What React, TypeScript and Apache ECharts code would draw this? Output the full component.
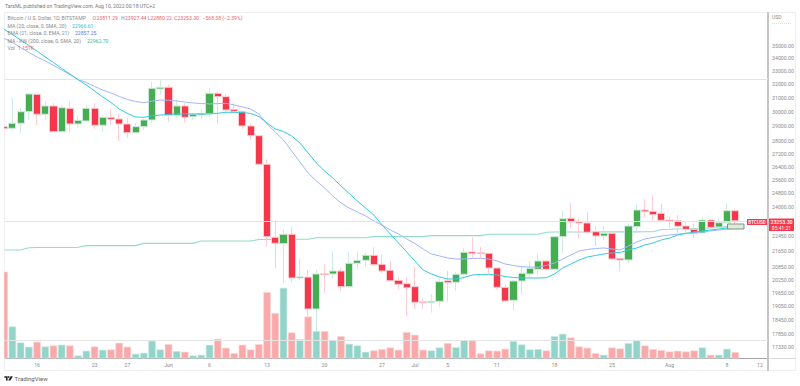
import React, { useEffect, useRef } from "react";
import * as echarts from "echarts";

const startDate = Date.UTC(2022, 4, 12);
const categoryCount = 94;
const dateLabels: Record<number, string> = {
  4: "16", 11: "23", 15: "27", 20: "Jun", 25: "6", 32: "13", 39: "20", 46: "27",
  50: "Jul", 54: "5", 60: "11", 67: "18", 74: "25", 81: "Aug", 88: "8", 92: "12",
};
const priceTicks = [35000, 34000, 33000, 32000, 31000, 30000, 29000, 28000, 27200, 26400, 25600, 24800, 24000, 22450, 21650, 20850, 20250, 19650, 19050, 18450, 17850, 17330];

const opens = [
  28982, 28873, 29213, 30016, 31264, 29835, 30420, 28644, 30256, 29166,
  29370, 30256, 29077, 29626, 29508, 29166, 28578, 28982, 29438, 31653,
  31780, 29766, 30420, 29668, 29786, 29877, 31337, 31089, 30185, 30044,
  29029, 28379, 26542, 22376, 22044, 22534, 20344, 20386, 18921, 20550,
  20535, 20679, 19934, 21056, 21203, 21454, 21007, 20713, 20234, 20075,
  19934, 19246, 19202, 19264, 20215, 20140, 20521, 21620, 21585, 21554,
  20825, 19904, 19308, 20201, 20535, 20761, 21169, 20761, 22408, 23392,
  23207, 23137, 22670, 22444, 22586, 21303, 21218, 22938, 23850, 23778,
  23668, 23298, 23260, 22975, 22798, 22602, 23298, 22921, 23153, 23811.29,
];
const closes = [
  28846, 29213, 30016, 31286, 29835, 30420, 28644, 30299, 29166, 29418,
  30256, 29077, 29626, 29487, 29166, 28578, 28982, 29438, 31705, 31780,
  29766, 30420, 29626, 29835, 29877, 31337, 31089, 30135, 30044, 29029,
  28379, 26542, 22408, 22064, 22534, 20344, 20404, 18921, 20535, 20501,
  20679, 19934, 21056, 21203, 21454, 20987, 20679, 20215, 20047, 19888,
  19219, 19202, 19264, 20168, 20122, 20521, 21605, 21534, 21534, 20825,
  19904, 19277, 20201, 20569, 20810, 21169, 20761, 22408, 23370, 23190,
  23137, 22639, 22444, 22586, 21268, 21218, 22975, 23850, 23756, 23590,
  23282, 23244, 22959, 22798, 22565, 23298, 22905, 23153, 23811, 23253.3,
];
const highs = [
  30135, 30994, 30278, 31359, 31286, 30727, 30634, 30491, 30727, 29717,
  30491, 30613, 29786, 30206, 29856, 29557, 29234, 29557, 32198, 32325,
  31951, 30848, 30634, 29947, 30185, 31705, 31454, 31286, 30655, 30086,
  29213, 28425, 26853, 23260, 22760, 22938, 21303, 20727, 20727, 21007,
  21670, 20810, 21635, 21635, 21585, 21859, 21504, 21169, 20407, 20344,
  20889, 19400, 19597, 20329, 20693, 20646, 21838, 22376, 21890, 21585,
  20860, 20014, 20248, 20889, 21169, 21554, 21218, 22444, 23811, 24262,
  23392, 23740, 22975, 22975, 22586, 21303, 23120, 24187, 24454, 24645,
  24187, 23480, 23574, 23207, 23120, 23447, 23337, 23392, 24228, 23927.44,
];
const lows = [
  25406, 28757, 28578, 29438, 29097, 29438, 28624, 28624, 28644, 28914,
  29322, 28825, 28644, 29097, 28028, 28246, 28558, 28757, 29254, 31213,
  29322, 29577, 29254, 29438, 29487, 29668, 29166, 29905, 30016, 28805,
  28093, 26499, 21890, 20810, 20094, 20168, 20248, 18526, 17970, 19629,
  20329, 19734, 19860, 20727, 20889, 20973, 20569, 20215, 19813, 18583,
  18921, 18921, 18758, 19023, 19246, 19734, 20406, 21303, 21303, 20569,
  19813, 19246, 18876, 19597, 20344, 20535, 20727, 20727, 21554, 22851,
  22323, 22586, 21925, 22234, 21218, 20693, 21056, 22586, 23447, 23260,
  23260, 22851, 22586, 22618, 22376, 22586, 22851, 22888, 23120, 22880.22,
];
const volumes = [
  15884, 5856, 2928, 2141, 3056, 2196, 2379, 2507, 2379, 549,
  1409, 2196, 1592, 1647, 2873, 2141, 860, 1043, 3239, 1647,
  2617, 1336, 1226, 549, 677, 2507, 3605, 1958, 970, 2507,
  1647, 2617, 12133, 8290, 12938, 4758, 3532, 7686, 4996, 4996,
  3422, 4081, 2690, 2379, 1226, 1464, 1702, 2013, 1592, 4813,
  4337, 1592, 1464, 2013, 2800, 2068, 3349, 3294, 915, 1464,
  1409, 1775, 3166, 2562, 1647, 1702, 1464, 4081, 4520, 3843,
  2196, 1958, 970, 677, 2013, 1830, 2800, 3294, 2379, 1702,
  1519, 1281, 1409, 1281, 1464, 2013, 677, 677, 1775, 1157,
];
const ma20 = [
  36390, 35954, 35494, 35041, 34593, 34113, 33677, 33207, 32784, 32348,
  31950, 31505, 31067, 30670, 30206, 29891, 29647, 29626, 29717, 29786,
  29821, 29856, 29856, 29856, 29856, 29856, 29905, 29975, 29968, 29954,
  29891, 29682, 29234, 28825, 28657, 28359, 27898, 27253, 26623, 26128,
  25705, 25229, 24790, 24358, 23963, 23574, 23029, 22550, 22080, 21620,
  21169, 20727, 20535, 20392, 20296, 20296, 20367, 20488, 20512, 20521,
  20488, 20415, 20367, 20344, 20344, 20344, 20358, 20535, 20825, 21021,
  21218, 21369, 21444, 21519, 21569, 21595, 21720, 21823, 21977, 22080,
  22234, 22339, 22497, 22576, 22655, 22707, 22760, 22814, 22868, 22966.61,
];
const ema21 = [
  35636, 35287, 34877, 34473, 34113, 33794, 33440, 33090, 32742, 32363,
  32138, 31839, 31578, 31359, 31104, 30884, 30741, 30655, 30777, 30848,
  30827, 30777, 30705, 30634, 30598, 30563, 30591, 30613, 30491, 30349,
  30206, 29856, 29166, 28624, 28093, 27379, 26685, 26008, 25525, 25110,
  24645, 24245, 23963, 23740, 23519, 23244, 23029, 22760, 22550, 22287,
  22053, 21771, 21519, 21419, 21318, 21268, 21268, 21293, 21303, 21268,
  21169, 21021, 20948, 20889, 20874, 20860, 20948, 21070, 21268, 21469,
  21670, 21745, 21797, 21823, 21771, 21720, 21925, 22130, 22287, 22365,
  22444, 22497, 22539, 22581, 22618, 22655, 22707, 22760, 22798, 22857.25,
];
const ma200 = [
  21720, 21720, 21720, 21838, 21849, 21849, 21849, 21849, 21849, 21860,
  21943, 21943, 21943, 21943, 21943, 21943, 21943, 22059, 22059, 22059,
  22059, 22059, 22059, 22059, 22182, 22182, 22182, 22182, 22182, 22182,
  22182, 22260, 22260, 22260, 22260, 22260, 22271, 22271, 22355, 22355,
  22355, 22355, 22355, 22355, 22355, 22408, 22408, 22408, 22408, 22408,
  22408, 22408, 22461, 22461, 22461, 22461, 22461, 22461, 22461, 22534,
  22534, 22534, 22534, 22534, 22534, 22534, 22639, 22650, 22650, 22650,
  22650, 22650, 22650, 22660, 22660, 22660, 22660, 22660, 22670, 22670,
  22787, 22798, 22814, 22825, 22841, 22852, 22868, 22895, 22938, 22962.7,
];
const currentPrice = 23253.3;
const upperLevel = 32380;
const volumeLevel = 3257;

const FONT = "Roboto, 'Liberation Sans', sans-serif";
const GREY = "#8a8a8a";
const RED_TXT = "#f0616c";

const gridLeft = 4.2;
const gridWidth = 763.9;

function label(x: number, y: number, text: string, fill = GREY, size = 5.1, align = "left", weight = 400) {
  return {
    type: "text", x, y, z: 120, silent: true,
    style: { text, fill, font: `${weight} ${size}px ${FONT}`, align, verticalAlign: "middle" },
  };
}
function hline(x1: number, x2: number, y: number, stroke: string, lineWidth = 1) {
  return { type: "line", z: 1, silent: true, shape: { x1, y1: y, x2, y2: y }, style: { stroke, lineWidth } };
}
function vline(x: number, y1: number, y2: number, stroke: string, lineWidth = 1, z = 1) {
  return { type: "line", z, silent: true, shape: { x1: x, y1, x2: x, y2 }, style: { stroke, lineWidth } };
}

export default function App() {
  const ref = useRef<HTMLDivElement>(null);
  useEffect(() => {
    const chart = echarts.init(ref.current!, undefined, { renderer: "svg" });
    const categories = Array.from({ length: categoryCount }, (_, i) =>
      new Date(startDate + i * 86400000).toISOString().slice(0, 10));
    chart.setOption({
      animation: false,
      backgroundColor: "#ffffff",
      grid: [
        { left: gridLeft, width: gridWidth, top: 12, height: 346.5 },
        { left: gridLeft, width: gridWidth, top: 258.5, height: 100 },
      ],
      xAxis: [
        { type: "category", gridIndex: 0, data: categories, boundaryGap: false, show: false },
        {
          type: "category", gridIndex: 1, data: categories, boundaryGap: false,
          axisLine: { lineStyle: { color: "#a3a3a3", width: 1 } },
          axisTick: { show: false },
          splitLine: { show: false },
          axisLabel: {
            show: true, color: GREY, fontSize: 5.2, fontFamily: FONT, margin: 4,
            interval: (i: number) => dateLabels[i] !== undefined,
            formatter: (_: string, i: number) => dateLabels[i] ?? "",
            hideOverlap: false, showMinLabel: true, showMaxLabel: true,
          },
        },
      ],
      yAxis: [
        {
          type: "log", gridIndex: 0, position: "right", min: 16852, max: 37897, logBase: 10,
          axisLine: { show: false }, axisTick: { show: false }, splitLine: { show: false },
          minorTick: { show: false }, minorSplitLine: { show: false },
          axisLabel: {
            color: GREY, fontSize: 5.2, fontFamily: FONT, margin: 4, align: "left",
            customValues: priceTicks,
            formatter: (v: number) => Number(v).toFixed(2),
          },
        },
        { type: "value", gridIndex: 1, min: 0, max: 18300, show: false },
      ],
      series: [
        {
          type: "bar", xAxisIndex: 1, yAxisIndex: 1, barWidth: 7.4, z: 1, clip: true,
          data: volumes.map((v, i) => ({
            value: v,
            itemStyle: closes[i] >= opens[i]
              ? { color: "#93d4ca", borderColor: "#c7e9e3", borderWidth: 0.6 }
              : { color: "#f9a9aa", borderColor: "#fdd3d4", borderWidth: 0.6 },
          })),
          markLine: {
            silent: true, symbol: "none", label: { show: false }, animation: false,
            lineStyle: { color: "#e4e4e4", type: "solid", width: 1 },
            data: [{ yAxis: volumeLevel }],
          },
        },
        {
          type: "line", data: ma200, symbol: "none", z: 2, silent: true,
          lineStyle: { color: "#93dccb", width: 1.1 },
        },
        {
          type: "candlestick", barWidth: 7.6, z: 3, clip: true,
          data: opens.map((o, i) => [o, closes[i], lows[i], highs[i]]),
          itemStyle: {
            color: "#46ad50", color0: "#f5374b",
            borderColor: "#cfeade", borderColor0: "#fdcdd2", borderWidth: 1,
          },
          markLine: {
            silent: true, symbol: "none", label: { show: false }, animation: false,
            data: [
              { yAxis: currentPrice, lineStyle: { color: "#fad9db", type: "solid", width: 1 } },
              { yAxis: upperLevel, lineStyle: { color: "#e4e4e4", type: "solid", width: 1 } },
            ],
          },
        },
        {
          type: "line", data: ema21, symbol: "none", z: 4, silent: true,
          lineStyle: { color: "#a3b5fb", width: 1 },
        },
        {
          type: "line", data: ma20, symbol: "none", z: 5, silent: true,
          lineStyle: { color: "#33cbdc", width: 1 },
        },
      ],
      graphic: [
        hline(4, 796, 12.5, "#eeeeee"),
        hline(4, 796, 370.5, "#eeeeee"),
        { type: "rect", z: 100, silent: true, shape: { x: 0, y: 100, width: 4.2, height: 260 }, style: { fill: "#ffffff" } },
        vline(4.5, 12, 371, "#eeeeee", 1, 1),
        vline(795.5, 12, 371, "#eeeeee"),
        vline(768, 12, 371, "#c6c6c6", 2, 5),
        hline(769, 796, 358.5, "#dadada"),
        { type: "line", z: 1, silent: true, shape: { x1: 772, y1: 23.5, x2: 792, y2: 23.5 }, style: { stroke: "#dddddd", lineWidth: 1, lineDash: [1, 1] } },

        label(5, 6, "TarsML published on TradingView.com, Aug 10, 2022 00:18 UTC+2", "#777777", 5.1),

        label(7.5, 18, "Bitcoin / U.S. Dollar, 1D, BITSTAMP"),
        label(92.5, 18, "O"), label(96.5, 18, "23811.29", RED_TXT),
        label(121, 18, "H"), label(125, 18, "23927.44", RED_TXT),
        label(147.5, 18, "L"), label(150.5, 18, "22880.22", RED_TXT),
        label(174, 18, "C"), label(177.5, 18, "23253.30", RED_TXT),
        label(202.5, 18, "\u2212568.38 (\u22122.39%)", RED_TXT),

        label(7.5, 25.5, "MA (20, close, 0, SMA, 20)"),
        label(72, 25.5, "22966.61", "#30bfd2"),
        label(7.5, 33, "EMA (21, close, 0, EMA, 21)"),
        label(75, 33, "22857.25", "#5a78ef"),
        label(7.5, 40.5, "MA - KW (200, close, 0, SMA, 20)"),
        label(87, 40.5, "22962.70", "#47b59d"),
        label(7.5, 48, "Vol"),
        label(18, 48, "1.157K", RED_TXT),

        label(772, 16.5, "USD"),

        { type: "rect", z: 110, silent: true, shape: { x: 727.5, y: 224, width: 16.5, height: 5 }, style: { fill: "#d8eeda", stroke: "#8d8d8d", lineWidth: 1 } },
        { type: "rect", z: 110, silent: true, shape: { x: 747, y: 219, width: 20, height: 6 }, style: { fill: "#f5374b" } },
        label(757, 222.1, "BTCUSD", "#ffffff", 4.6, "center", 500),
        { type: "rect", z: 110, silent: true, shape: { x: 769, y: 218.5, width: 25, height: 12.5 }, style: { fill: "#f5374b" } },
        label(781.5, 221.8, "23253.30", "#ffffff", 5.2, "center", 500),
        label(781.5, 227.5, "05:41:21", "#ffffff", 5, "center"),

        { type: "polygon", z: 120, silent: true, shape: { points: [[4.4, 376.2], [7.6, 376.2], [7.6, 380.6], [6, 380.6], [6, 377.8], [4.4, 377.8]] }, style: { fill: "#1f1f1f" } },
        { type: "circle", z: 120, silent: true, shape: { cx: 8.7, cy: 377, r: 0.8 }, style: { fill: "#1f1f1f" } },
        { type: "polygon", z: 120, silent: true, shape: { points: [[10.6, 376.2], [12.8, 376.2], [10.4, 380.6], [8.2, 380.6]] }, style: { fill: "#1f1f1f" } },
        label(14.6, 378.5, "TradingView", "#5c5c5c", 6),
      ],
    });
    return () => chart.dispose();
  }, []);
  return (
    <div
      ref={ref}
      style={{ position: "fixed", left: 0, top: 0, width: 800, height: 386, background: "#fff" }}
    />
  );
}
